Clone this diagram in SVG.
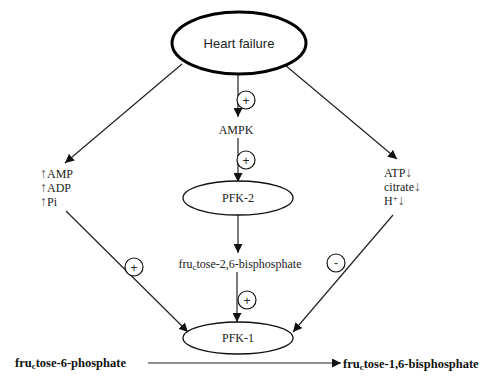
<svg xmlns="http://www.w3.org/2000/svg" width="484" height="376" viewBox="0 0 484 376">
<style>
.ser{font-family:"Liberation Serif","Times New Roman",serif;font-size:12px;fill:#222}
.bold{font-family:"Liberation Serif","Times New Roman",serif;font-size:12.5px;font-weight:bold;fill:#111}
.ln{stroke:#222;stroke-width:1.2;fill:none}
.node{fill:#fff;stroke:#111;stroke-width:1.3}
.sign{fill:#fff;stroke:#111;stroke-width:1.2}
.pm{font-family:"Liberation Sans",Arial,sans-serif;font-size:12px;fill:#222}
.sm{font-size:9px}
.arr{font-size:14px;fill:#555}
</style>
<defs>
<marker id="ah" viewBox="0 0 10 10" refX="10" refY="5" markerWidth="9" markerHeight="9" markerUnits="userSpaceOnUse" orient="auto">
<path d="M0,0 L10,5 L0,10 z" fill="#111"/>
</marker>
</defs>
<rect width="484" height="376" fill="#fff"/>
<g id="connectors">
<line class="ln" x1="182" y1="64" x2="65" y2="163" marker-end="url(#ah)"/>
<line class="ln" x1="285" y1="65" x2="397" y2="159" marker-end="url(#ah)"/>
<line class="ln" x1="238" y1="74" x2="238" y2="117" marker-end="url(#ah)"/>
<line class="ln" x1="238" y1="138" x2="238" y2="182" marker-end="url(#ah)"/>
<line class="ln" x1="238" y1="215" x2="238" y2="253" marker-end="url(#ah)"/>
<line class="ln" x1="237" y1="272" x2="237" y2="322" marker-end="url(#ah)"/>
<line class="ln" x1="66" y1="211" x2="188" y2="332" marker-end="url(#ah)"/>
<line class="ln" x1="393" y1="215" x2="293" y2="332" marker-end="url(#ah)"/>
<line class="ln" x1="148" y1="363" x2="341" y2="363" marker-end="url(#ah)"/>
<g id="sign1"><circle class="sign" cx="246" cy="100" r="9"/><text class="pm" x="246" y="104.5" text-anchor="middle">+</text></g>
<g id="sign2"><circle class="sign" cx="246" cy="160" r="9"/><text class="pm" x="246" y="164.5" text-anchor="middle">+</text></g>
<g id="sign3"><circle class="sign" cx="247" cy="300" r="9"/><text class="pm" x="247" y="304.5" text-anchor="middle">+</text></g>
<g id="sign4"><circle class="sign" cx="134" cy="267" r="9"/><text class="pm" x="134" y="271.5" text-anchor="middle">+</text></g>
<g id="sign5"><circle class="sign" cx="336" cy="263" r="9"/><text class="pm" x="336" y="267" text-anchor="middle">-</text></g>
</g>
<g id="heart-failure">
<ellipse cx="239" cy="43" rx="67" ry="31" fill="#fff" stroke="#000" stroke-width="3"/>
<text x="239" y="48" text-anchor="middle" font-family="Liberation Sans, Arial, sans-serif" font-size="13" fill="#222">Heart failure</text>
</g>
<g id="ampk"><text class="ser" x="236" y="134" text-anchor="middle">AMPK</text></g>
<g id="pfk2">
<ellipse class="node" cx="238" cy="198" rx="55" ry="17"/>
<text class="ser" x="238" y="202" text-anchor="middle">PFK-2</text>
</g>
<g id="f26bp"><text class="ser" x="240" y="268" text-anchor="middle" font-size="13">fru<tspan class="sm" dy="2">c</tspan><tspan dy="-2">tose-2,6-bisphosphate</tspan></text></g>
<g id="pfk1">
<ellipse class="node" cx="238" cy="338" rx="55" ry="16"/>
<text class="ser" x="238" y="342" text-anchor="middle">PFK-1</text>
</g>
<g id="left-metabolites">
<text class="ser" x="40" y="178"><tspan class="arr">↑</tspan>AMP</text>
<text class="ser" x="40" y="192"><tspan class="arr">↑</tspan>ADP</text>
<text class="ser" x="40" y="206"><tspan class="arr">↑</tspan>Pi</text>
</g>
<g id="right-metabolites">
<text class="ser" x="384" y="177">ATP<tspan class="arr">↓</tspan></text>
<text class="ser" x="384" y="191">citrate<tspan class="arr">↓</tspan></text>
<text class="ser" x="384" y="205">H<tspan class="sm" dy="-4">+</tspan><tspan class="arr" dy="4">↓</tspan></text>
</g>
<g id="f6p"><text class="bold" x="15" y="367">fru<tspan font-size="9" dy="2">c</tspan><tspan dy="-2">tose-6-phosphate</tspan></text></g>
<g id="f16bp"><text class="bold" x="343" y="368">fru<tspan font-size="9" dy="2">c</tspan><tspan dy="-2">tose-1,6-bisphosphate</tspan></text></g>
</svg>
